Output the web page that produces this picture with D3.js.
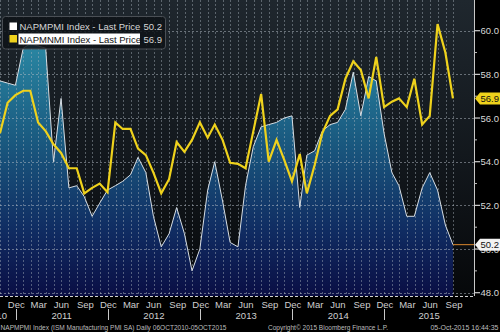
<!DOCTYPE html>
<html>
<head>
<meta charset="utf-8">
<script src="https://cdn.jsdelivr.net/npm/d3@7"></script>
<style>
  html, body { margin: 0; padding: 0; background: #000; }
  svg { display: block; font-family: "Liberation Sans", Arial, sans-serif; }
</style>
</head>
<body>
<svg id="chart" width="500" height="332"></svg>
<script>
// Reporting months (values are plotted at each month's end)
const periods = [
  "2010-10","2010-11","2010-12",
  "2011-01","2011-02","2011-03","2011-04","2011-05","2011-06","2011-07","2011-08","2011-09","2011-10","2011-11","2011-12",
  "2012-01","2012-02","2012-03","2012-04","2012-05","2012-06","2012-07","2012-08","2012-09","2012-10","2012-11","2012-12",
  "2013-01","2013-02","2013-03","2013-04","2013-05","2013-06","2013-07","2013-08","2013-09","2013-10","2013-11","2013-12",
  "2014-01","2014-02","2014-03","2014-04","2014-05","2014-06","2014-07","2014-08","2014-09","2014-10","2014-11","2014-12",
  "2015-01","2015-02","2015-03","2015-04","2015-05","2015-06","2015-07","2015-08","2015-09"
];

// ISM Manufacturing PMI (NAPMPMI)
const pmiValues = [
  57.7, 57.6, 57.5,
  59.2, 59.4, 59.3, 59.2, 54.0, 56.9, 52.8, 52.9, 52.4, 51.5, 52.1, 52.7,
  52.9, 53.1, 53.4, 54.2, 53.5, 51.5, 50.1, 50.7, 51.9, 50.7, 49.0, 50.0,
  52.7, 54.0, 52.2, 50.3, 50.1, 52.9, 54.7, 55.6, 55.7, 55.8, 56.0, 56.1,
  51.9, 54.3, 54.5, 55.4, 55.7, 55.8, 56.4, 58.1, 56.1, 57.9, 57.7, 55.3,
  53.5, 52.9, 51.5, 51.5, 52.8, 53.5, 52.7, 51.1, 50.2
];

// ISM Non-Manufacturing index (NAPMNMI)
const nmiValues = [
  55.3, 56.7, 57.05,
  57.25, 57.25, 55.8, 55.4, 54.8, 54.4, 53.7, 53.7, 52.55, 52.8, 53.0, 52.6,
  55.8, 55.5, 55.5, 54.6, 54.3, 53.5, 52.55, 53.2, 54.9, 54.45, 55.0, 55.8,
  55.1, 55.7, 55.0, 53.95, 53.9, 53.7, 55.4, 57.1, 54.0, 55.0, 54.1, 53.1,
  54.35, 52.55, 53.85, 55.3, 56.1, 56.4, 57.8, 58.6, 58.2, 56.9, 58.8, 56.5,
  56.75, 56.9, 56.5, 57.8, 55.7, 56.1, 60.3, 59.0, 56.9
];

const yTicks = [48, 50, 52, 54, 56, 58, 60];
const yMinorTicks = [49, 51, 53, 55, 57, 59];
const monthLabels = ["Dec", "Mar", "Jun", "Sep"];
const yearLabels = ["2010", "2011", "2012", "2013", "2014", "2015"];

const seriesNames = ["NAPMPMI Index - Last Price", "NAPMNMI Index - Last Price"];
const footerLeft = "NAPMPMI Index (ISM Manufacturing PMI SA)  Daily 06OCT2010-05OCT2015";
const footerMid = "Copyright\u00A9 2015 Bloomberg Finance L.P.";
const footerRight = "05-Oct-2015 16:44:35";

// ---- layout ----
const W = 500, H = 332;
const plotW = 474, plotH = 296;

const svg = d3.select("#chart");
const parseMonth = d3.utcParse("%Y-%m");
const monthEnd = p => d3.utcDay.offset(d3.utcMonth.offset(parseMonth(p), 1), -1);

const startDate = new Date(Date.UTC(2010, 9, 6));
const endDate = new Date(Date.UTC(2015, 9, 5));

const x = d3.scaleUtc().domain([startDate, endDate]).range([-6.3, 454.2]);
const y = d3.scaleLinear().domain([48, 60]).range([292.7, 30.7]);

const pmi = periods.map((p, i) => ({ date: monthEnd(p), value: pmiValues[i] }));
const nmi = periods.map((p, i) => ({ date: monthEnd(p), value: nmiValues[i] }));

// ---- defs ----
const defs = svg.append("defs");
defs.append("clipPath").attr("id", "plotClip")
  .append("rect").attr("x", 0).attr("y", 0).attr("width", plotW).attr("height", plotH);

const bg = defs.append("linearGradient").attr("id", "bgGrad")
  .attr("x1", 0).attr("y1", 0).attr("x2", 0).attr("y2", 1);
bg.append("stop").attr("offset", "0%").attr("stop-color", "#1f272e");
bg.append("stop").attr("offset", "55%").attr("stop-color", "#12171c");
bg.append("stop").attr("offset", "100%").attr("stop-color", "#06080a");

const af = defs.append("linearGradient").attr("id", "areaGrad")
  .attr("gradientUnits", "userSpaceOnUse")
  .attr("x1", 0).attr("y1", 35).attr("x2", 0).attr("y2", plotH);
af.append("stop").attr("offset", "0%").attr("stop-color", "#2b8ba6");
af.append("stop").attr("offset", "40%").attr("stop-color", "#1a5a80");
af.append("stop").attr("offset", "75%").attr("stop-color", "#102c62");
af.append("stop").attr("offset", "100%").attr("stop-color", "#0a0e44");

// ---- plot background ----
svg.append("rect").attr("x", 0).attr("y", 0).attr("width", plotW).attr("height", plotH)
  .attr("fill", "url(#bgGrad)");

const plot = svg.append("g").attr("clip-path", "url(#plotClip)");

// PMI area
plot.append("path").datum(pmi)
  .attr("fill", "url(#areaGrad)")
  .attr("d", d3.area().x(d => x(d.date)).y0(plotH).y1(d => y(d.value)));

// grid
const monthStarts = d3.utcMonth.range(d3.utcMonth.ceil(startDate), endDate);
plot.append("g").selectAll("line").data(monthStarts).join("line")
  .attr("x1", d => Math.round(x(d)) + 0.5).attr("x2", d => Math.round(x(d)) + 0.5)
  .attr("y1", 0).attr("y2", plotH)
  .attr("stroke", "#a9b3bd").attr("stroke-opacity", 0.45)
  .attr("stroke-dasharray", "2,2");
plot.append("g").selectAll("line").data(yTicks).join("line")
  .attr("x1", 0).attr("x2", plotW)
  .attr("y1", d => Math.round(y(d)) + 0.5).attr("y2", d => Math.round(y(d)) + 0.5)
  .attr("stroke", "#b5bec7").attr("stroke-opacity", 0.5)
  .attr("stroke-dasharray", "2,2");

// PMI outline
plot.append("path").datum(pmi)
  .attr("fill", "none").attr("stroke", "#d6dde3").attr("stroke-width", 1)
  .attr("d", d3.line().x(d => x(d.date)).y(d => y(d.value)));

// NMI line
plot.append("path").datum(nmi)
  .attr("fill", "none").attr("stroke", "#efd21c").attr("stroke-width", 2.2)
  .attr("stroke-linejoin", "miter")
  .attr("d", d3.line().x(d => x(d.date)).y(d => y(d.value)));

// last PMI value carried to the axis
const lastPmi = pmi[pmi.length - 1];
plot.append("line")
  .attr("x1", x(lastPmi.date)).attr("x2", plotW)
  .attr("y1", y(lastPmi.value)).attr("y2", y(lastPmi.value))
  .attr("stroke", "#d9862e").attr("stroke-width", 1);

// ---- right value axis ----
svg.append("line").attr("x1", plotW + 0.5).attr("x2", plotW + 0.5)
  .attr("y1", 0).attr("y2", plotH).attr("stroke", "#c8c8c8");
const yAxis = svg.append("g");
yAxis.selectAll("line.major").data(yTicks).join("line").attr("class", "major")
  .attr("x1", plotW).attr("x2", plotW + 6)
  .attr("y1", d => y(d)).attr("y2", d => y(d))
  .attr("stroke", "#d0d0d0").attr("stroke-width", 1.2);
yAxis.selectAll("line.minor").data(yMinorTicks).join("line").attr("class", "minor")
  .attr("x1", plotW).attr("x2", plotW + 3)
  .attr("y1", d => y(d)).attr("y2", d => y(d))
  .attr("stroke", "#bdbdbd");
yAxis.selectAll("text").data(yTicks).join("text")
  .attr("x", plotW + 6.5).attr("y", d => y(d) + 3.5)
  .attr("fill", "#d8d8d8").attr("font-size", 9.5)
  .text(d => d.toFixed(1));

// value tags
function tag(value, fill) {
  const cy = y(value);
  const g = svg.append("g");
  g.append("path")
    .attr("d", `M${plotW + 1},${cy} L${plotW + 6},${cy - 6} L${W},${cy - 6} L${W},${cy + 6} L${plotW + 6},${cy + 6} Z`)
    .attr("fill", fill);
  g.append("text").attr("x", plotW + 6.5).attr("y", cy + 3.5)
    .attr("fill", "#111").attr("font-size", 9.5).text(value.toFixed(1));
}
tag(nmi[nmi.length - 1].value, "#efd21c");
tag(lastPmi.value, "#f2f2f2");

// ---- bottom time axis ----
svg.append("line").attr("x1", 0).attr("x2", plotW).attr("y1", plotH + 0.5).attr("y2", plotH + 0.5)
  .attr("stroke", "#d0d0d0").attr("stroke-dasharray", "3,2");

const quarterMonths = monthStarts.filter(d => monthLabels.includes(d3.utcFormat("%b")(d)));
svg.append("g").selectAll("text").data(quarterMonths).join("text")
  .attr("x", d => x(d)).attr("y", 307.5)
  .attr("fill", "#cfcfcf").attr("font-size", 9.5)
  .text(d => d3.utcFormat("%b")(d));

const yearStarts = d3.utcYear.range(d3.utcYear.ceil(startDate), endDate);
svg.append("g").selectAll("line").data(yearStarts).join("line")
  .attr("x1", d => Math.round(x(d)) + 0.5).attr("x2", d => Math.round(x(d)) + 0.5)
  .attr("y1", 309).attr("y2", 320)
  .attr("stroke", "#c8c8c8");

const yearBounds = yearLabels.map((yr, i) => {
  const a = i === 0 ? null : x(yearStarts[i - 1]);
  const b = i < yearStarts.length ? x(yearStarts[i]) : plotW;
  return { yr, a, b };
});
svg.append("g").selectAll("text").data(yearBounds).join("text")
  .attr("x", d => d.a === null ? d.b - 8.5 : (d.a + d.b) / 2)
  .attr("y", 318.5)
  .attr("text-anchor", d => d.a === null ? "end" : "middle")
  .attr("fill", "#cfcfcf").attr("font-size", 9.5)
  .text(d => d.yr);

// ---- footer ----
svg.append("text").attr("x", 0.5).attr("y", 330).attr("fill", "#bdbdbd")
  .attr("font-size", 7).attr("textLength", 226).attr("lengthAdjust", "spacingAndGlyphs")
  .text(footerLeft);
svg.append("text").attr("x", 268).attr("y", 330).attr("fill", "#bdbdbd")
  .attr("font-size", 7).attr("textLength", 120).attr("lengthAdjust", "spacingAndGlyphs")
  .text(footerMid);
svg.append("text").attr("x", 498.5).attr("y", 330).attr("text-anchor", "end").attr("fill", "#bdbdbd")
  .attr("font-size", 7).text(footerRight);

// ---- legend ----
const legend = svg.append("g");
legend.append("rect").attr("x", 2.5).attr("y", 16.5).attr("width", 163).attr("height", 32.5)
  .attr("rx", 3).attr("fill", "#0e1317").attr("fill-opacity", 0.85)
  .attr("stroke", "#4a4f55");
const legendRows = [
  { name: seriesNames[0], color: "#ffffff", value: lastPmi.value, highlight: false },
  { name: seriesNames[1], color: "#efd21c", value: nmi[nmi.length - 1].value, highlight: true }
];
legendRows.forEach((r, i) => {
  const ty = 30 + i * 12.5;
  legend.append("rect").attr("x", 9.5).attr("y", ty - 7.5).attr("width", 7.5).attr("height", 7.5)
    .attr("fill", r.color);
  if (r.highlight) {
    legend.append("rect").attr("x", 18.5).attr("y", ty - 9).attr("width", 121.5).attr("height", 11)
      .attr("fill", "#ffffff");
  }
  legend.append("text").attr("x", 19.5).attr("y", ty)
    .attr("fill", r.highlight ? "#111" : "#d7d7d7").attr("font-size", 9.5)
    .text(r.name);
  legend.append("text").attr("x", 143.5).attr("y", ty)
    .attr("fill", "#d7d7d7").attr("font-size", 9.5)
    .text(r.value.toFixed(1));
});
</script>
</body>
</html>
